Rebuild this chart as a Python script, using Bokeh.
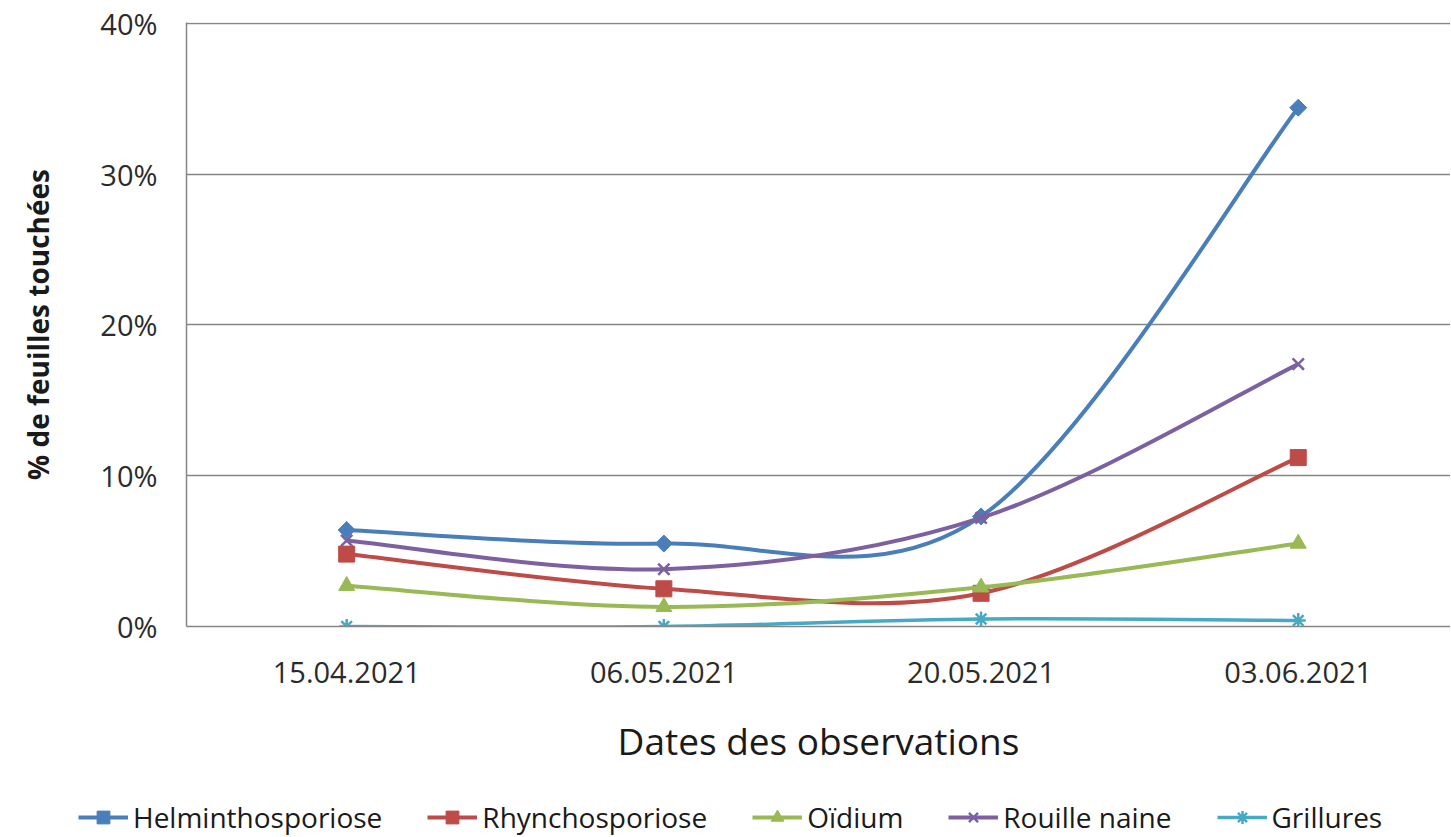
import math
from bokeh.plotting import figure
from bokeh.models import (Range1d, FixedTicker, NumeralTickFormatter, Legend, LegendItem,
                          ColumnDataSource)
from bokeh.embed import file_html
from bokeh.resources import INLINE

# ---------------- data ----------------
dates = ["15.04.2021", "06.05.2021", "20.05.2021", "03.06.2021"]
helminthosporiose = [0.064, 0.055, 0.073, 0.344]
rhynchosporiose = [0.048, 0.025, 0.022, 0.112]
oidium = [0.027, 0.013, 0.026, 0.055]
rouille_naine = [0.057, 0.038, 0.072, 0.174]
grillures = [0.000, 0.000, 0.005, 0.004]
y_ticks = [0.0, 0.1, 0.2, 0.3, 0.4]

series = [
    ("Helminthosporiose", helminthosporiose, "#4A7EBB", "square", 12, math.pi / 4),
    ("Rhynchosporiose", rhynchosporiose, "#BE4B48", "square", 16, 0),
    ("Oïdium", oidium, "#98B954", "triangle", 16, 0),
    ("Rouille naine", rouille_naine, "#7D60A0", "x", 16, 0),
    ("Grillures", grillures, "#46AAC5", "asterisk", 15, 0),
]

FONT = "Open Sans"

p = figure(width=1450, height=796, output_backend="svg", toolbar_location=None,
           x_range=Range1d(-0.505, 3.48), y_range=Range1d(0, 0.4005),
           min_border_left=186, min_border_right=0, min_border_top=22,
           min_border_bottom=170)
p.outline_line_color = None
p.background_fill_color = "white"
p.border_fill_color = "white"

# axes
p.xaxis.ticker = FixedTicker(ticks=list(range(len(dates))))
p.xaxis.major_label_overrides = {i: d for i, d in enumerate(dates)}
p.xaxis.axis_label = "Dates des observations"
p.yaxis.ticker = FixedTicker(ticks=y_ticks)
p.yaxis.formatter = NumeralTickFormatter(format="0%")
p.yaxis.axis_label = "% de feuilles touchées"

for ax in (p.xaxis, p.yaxis):
    ax.axis_line_color = "#868686"
    ax.axis_line_width = 1.5
    ax.major_tick_line_color = None
    ax.minor_tick_line_color = None
    ax.major_label_text_font = FONT
    ax.major_label_text_font_size = "29px"
    ax.major_label_text_color = "#2b2b2b"
    ax.axis_label_text_font = FONT
    ax.axis_label_text_color = "#1a1a1a"

p.xaxis.major_label_standoff = 29
p.xaxis.axis_label_text_font_size = "37px"
p.xaxis.axis_label_text_font_style = "normal"
p.xaxis.axis_label_standoff = 29
p.yaxis.major_label_standoff = 23
p.yaxis.axis_label_text_font_size = "28px"
p.yaxis.axis_label_text_font_style = "bold"
p.yaxis.axis_label_standoff = 40

p.xgrid.grid_line_color = None
p.ygrid.grid_line_color = "#868686"
p.ygrid.grid_line_width = 1.5


def bezier_segments(ys):
    xs = list(range(len(ys)))
    n = len(ys)
    seg = dict(x0=[], y0=[], x1=[], y1=[], cx0=[], cy0=[], cx1=[], cy1=[])
    for i in range(n - 1):
        p0 = (xs[max(i - 1, 0)], ys[max(i - 1, 0)])
        p1 = (xs[i], ys[i])
        p2 = (xs[i + 1], ys[i + 1])
        p3 = (xs[min(i + 2, n - 1)], ys[min(i + 2, n - 1)])
        seg["x0"].append(p1[0]); seg["y0"].append(p1[1])
        seg["x1"].append(p2[0]); seg["y1"].append(p2[1])
        seg["cx0"].append(p1[0] + (p2[0] - p0[0]) / 6)
        seg["cy0"].append(p1[1] + (p2[1] - p0[1]) / 6)
        seg["cx1"].append(p2[0] - (p3[0] - p1[0]) / 6)
        seg["cy1"].append(p2[1] - (p3[1] - p1[1]) / 6)
    return seg


# legend strip (separate small figure below the chart, its own root)
lf = figure(width=1450, height=40, output_backend="svg", toolbar_location=None,
            x_range=Range1d(0, 1), y_range=Range1d(0, 1),
            x_axis_type=None, y_axis_type=None,
            min_border_left=0, min_border_right=0, min_border_top=0, min_border_bottom=0)
lf.outline_line_color = None
lf.xgrid.grid_line_color = None
lf.ygrid.grid_line_color = None
lf.background_fill_color = "white"
lf.border_fill_color = "white"

items = []
for name, vals, color, marker, size, angle in series:
    lw = 4 if name != "Grillures" else 3.5
    src = ColumnDataSource(bezier_segments(vals))
    p.bezier(x0="x0", y0="y0", x1="x1", y1="y1", cx0="cx0", cy0="cy0",
             cx1="cx1", cy1="cy1", source=src, line_color=color, line_width=lw)
    lw_m = 2.5 if marker in ("x", "asterisk") else 1
    p.scatter(x=list(range(len(vals))), y=vals, marker=marker, size=size, angle=angle,
              fill_color=color, line_color=color, line_width=lw_m)
    # legend proxies (no visible data)
    lr = lf.line(x=[float("nan")], y=[float("nan")], line_color=color, line_width=lw)
    sr = lf.scatter(x=[float("nan")], y=[float("nan")], marker=marker, size=size,
                    angle=angle, fill_color=color, line_color=color, line_width=lw_m)
    items.append(LegendItem(label=name, renderers=[lr, sr]))

legend = Legend(items=items, orientation="horizontal", location=(78, 0),
                label_text_font=FONT, label_text_font_size="28px",
                label_text_color="#1a1a1a", glyph_width=50, glyph_height=32,
                label_standoff=5, spacing=45, padding=0, margin=0,
                border_line_alpha=0, background_fill_alpha=0)
lf.add_layout(legend, "center")

open("out.html", "w").write(file_html([p, lf], INLINE))
